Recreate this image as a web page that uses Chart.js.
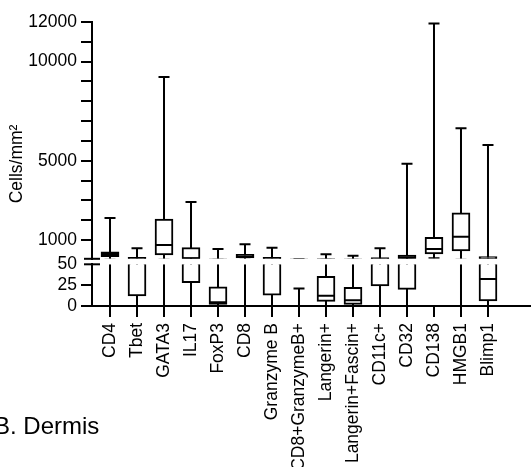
<!DOCTYPE html>
<html>
<head>
<meta charset="utf-8">
<script src="https://cdn.jsdelivr.net/npm/chart.js@4.4.1/dist/chart.umd.min.js"></script>
<style>
  body { margin: 0; background: #fff; }
  #wrap { position: relative; width: 531px; height: 467px; overflow: hidden; }
  #panel { position: absolute; left: -6px; top: 414px; font-family: 'Liberation Sans', Arial, sans-serif; font-size: 24px; line-height: 24px; color: #000; white-space: nowrap; }
</style>
</head>
<body>
<div id="wrap">
  <canvas id="chart" width="531" height="467"></canvas>
  <div id="panel">B. Dermis</div>
</div>
<script>
const categories = ['CD4', 'Tbet', 'GATA3', 'IL17', 'FoxP3', 'CD8', 'Granzyme B', 'CD8+GranzymeB+',
  'Langerin+', 'Langerin+Fascin+', 'CD11c+', 'CD32', 'CD138', 'HMGB1', 'Blimp1'];

// box plot values, cells/mm2
const mins    = [0,    0,   0,    0,    0,   0,   0,   0,  0,    0,    0,   0,    75,    0,    0];
const q1s     = [156,  12,  242,  28,   2,   90,  13,  0,  5.6,  2,    24,  20,   292,   444,  6];
const medians = [290,  70,  746,  80,   4.5, 160, 70,  0,  12.3, 7,    60,  120,  540,   1165, 32.5];
const q3s     = [408,  126, 2058, 610,  23,  277, 126, 0,  35.7, 22.3, 90,  242,  1135,  2376, 156];
const maxes   = [2110, 580, 9220, 2920, 544, 782, 610, 21, 277,  207,  580, 4850, 11930, 6635, 5790];

// broken y axis: lower segment 0-50, upper segment 50-12000
const upperTicks  = [1000, 2000, 3000, 4000, 5000, 6000, 7000, 8000, 9000, 10000, 11000, 12000];
const upperLabels = [1000, 5000, 10000, 12000];
const lowerTicks  = [0, 25, 50];

const FONT = { family: "'Liberation Sans', Arial, sans-serif", size: 17.5 };
Chart.defaults.color = '#000';

function pts(values) {
  return values.map((v, i) => ({ x: i, y: v }));
}

// the same boxes are drawn on both segments and clipped to each one
function boxSets(axis) {
  const mark = (values, r) => ({
    type: 'line', yAxisID: axis, order: 1, data: pts(values),
    showLine: false, pointStyle: 'line', pointRadius: r, pointHoverRadius: r,
    pointBorderWidth: 2, pointBorderColor: '#000', pointBackgroundColor: '#000'
  });
  return [
    mark(medians, 9),
    mark(maxes, 5.5),
    mark(mins, 5.5),
    {
      type: 'bar', yAxisID: axis, order: 2, grouped: false,
      data: q1s.map((v, i) => ({ x: i, y: [v, q3s[i]] })),
      backgroundColor: '#fff', borderColor: '#000', borderWidth: 2, borderSkipped: false,
      barThickness: 18
    },
    {
      type: 'bar', yAxisID: axis, order: 3, grouped: false,
      data: mins.map((v, i) => ({ x: i, y: [v, maxes[i]] })),
      backgroundColor: '#000', borderWidth: 0, barThickness: 2, inflateAmount: 0
    }
  ];
}

const segmentClip = {
  id: 'segmentClip',
  beforeDatasetDraw(chart, args) {
    const { xScale, yScale } = args.meta;
    const ctx = chart.ctx;
    ctx.save();
    ctx.beginPath();
    ctx.rect(xScale.left, yScale.top, xScale.right - xScale.left, yScale.bottom - yScale.top);
    ctx.clip();
  },
  afterDatasetDraw(chart) {
    chart.ctx.restore();
  }
};

const breakMarks = {
  id: 'breakMarks',
  afterDraw(chart) {
    const { ctx, scales: { yTop, yBot } } = chart;
    const x = yTop.right;
    ctx.save();
    ctx.strokeStyle = '#000';
    ctx.lineWidth = 2;
    [yTop.bottom, yBot.top].forEach(y => {
      ctx.beginPath();
      ctx.moveTo(x - 8, y);
      ctx.lineTo(x + 8, y);
      ctx.stroke();
    });
    ctx.restore();
  }
};

const tickGrid = {
  display: true, drawOnChartArea: false, drawTicks: true, offset: false,
  tickLength: 11, lineWidth: 2, color: '#000'
};
const axisBorder = { display: true, width: 2, color: '#000' };

new Chart(document.getElementById('chart'), {
  type: 'bar',
  data: { datasets: [...boxSets('yTop'), ...boxSets('yBot')] },
  options: {
    responsive: false,
    animation: false,
    devicePixelRatio: 1,
    layout: { autoPadding: false, padding: { top: 22, right: 0, bottom: 0, left: 0 } },
    plugins: { legend: { display: false }, tooltip: { enabled: false } },
    scales: {
      x: {
        type: 'linear', position: 'bottom', offset: false, min: -0.667, max: 15.593,
        afterBuildTicks: s => { s.ticks = categories.map((c, i) => ({ value: i })); },
        afterFit: s => { s.height = 161; s.paddingLeft = 0; s.paddingRight = 0; },
        ticks: {
          autoSkip: false, minRotation: 90, maxRotation: 90, padding: 6,
          font: FONT, color: '#000', callback: v => categories[v]
        },
        grid: tickGrid,
        border: axisBorder
      },
      yTitle: {
        type: 'linear', position: 'left', weight: 4,
        afterFit: s => { s.width = 28; },
        grid: { display: false }, border: { display: false }, ticks: { display: false },
        title: { display: true, text: 'Cells/mm²', font: FONT, color: '#000', padding: { top: 7, bottom: 0 } }
      },
      yTop: {
        type: 'linear', position: 'left', stack: 'y', stackWeight: 236.8, weight: 3,
        min: 50, max: 12000,
        afterBuildTicks: s => { s.ticks = upperTicks.map(v => ({ value: v })); },
        afterFit: s => { s.width = 64; },
        ticks: {
          autoSkip: false, padding: 4, font: FONT, color: '#000',
          callback: v => upperLabels.includes(v) ? String(v) : ''
        },
        grid: tickGrid,
        border: axisBorder
      },
      yGap: {
        type: 'linear', position: 'left', stack: 'y', stackWeight: 5.5, weight: 2,
        afterFit: s => { s.width = 64; },
        grid: { display: false }, border: { display: false }, ticks: { display: false }
      },
      yBot: {
        type: 'linear', position: 'left', stack: 'y', stackWeight: 41.7, weight: 1,
        min: 0, max: 50,
        afterBuildTicks: s => { s.ticks = lowerTicks.map(v => ({ value: v })); },
        afterFit: s => { s.width = 64; },
        ticks: { autoSkip: false, padding: 4, font: FONT, color: '#000', callback: v => String(v) },
        grid: Object.assign({}, tickGrid, {
          tickColor: c => (c.tick && c.tick.value === 50) ? 'rgba(0,0,0,0)' : '#000'
        }),
        border: axisBorder
      }
    }
  },
  plugins: [segmentClip, breakMarks]
});
</script>
</body>
</html>
